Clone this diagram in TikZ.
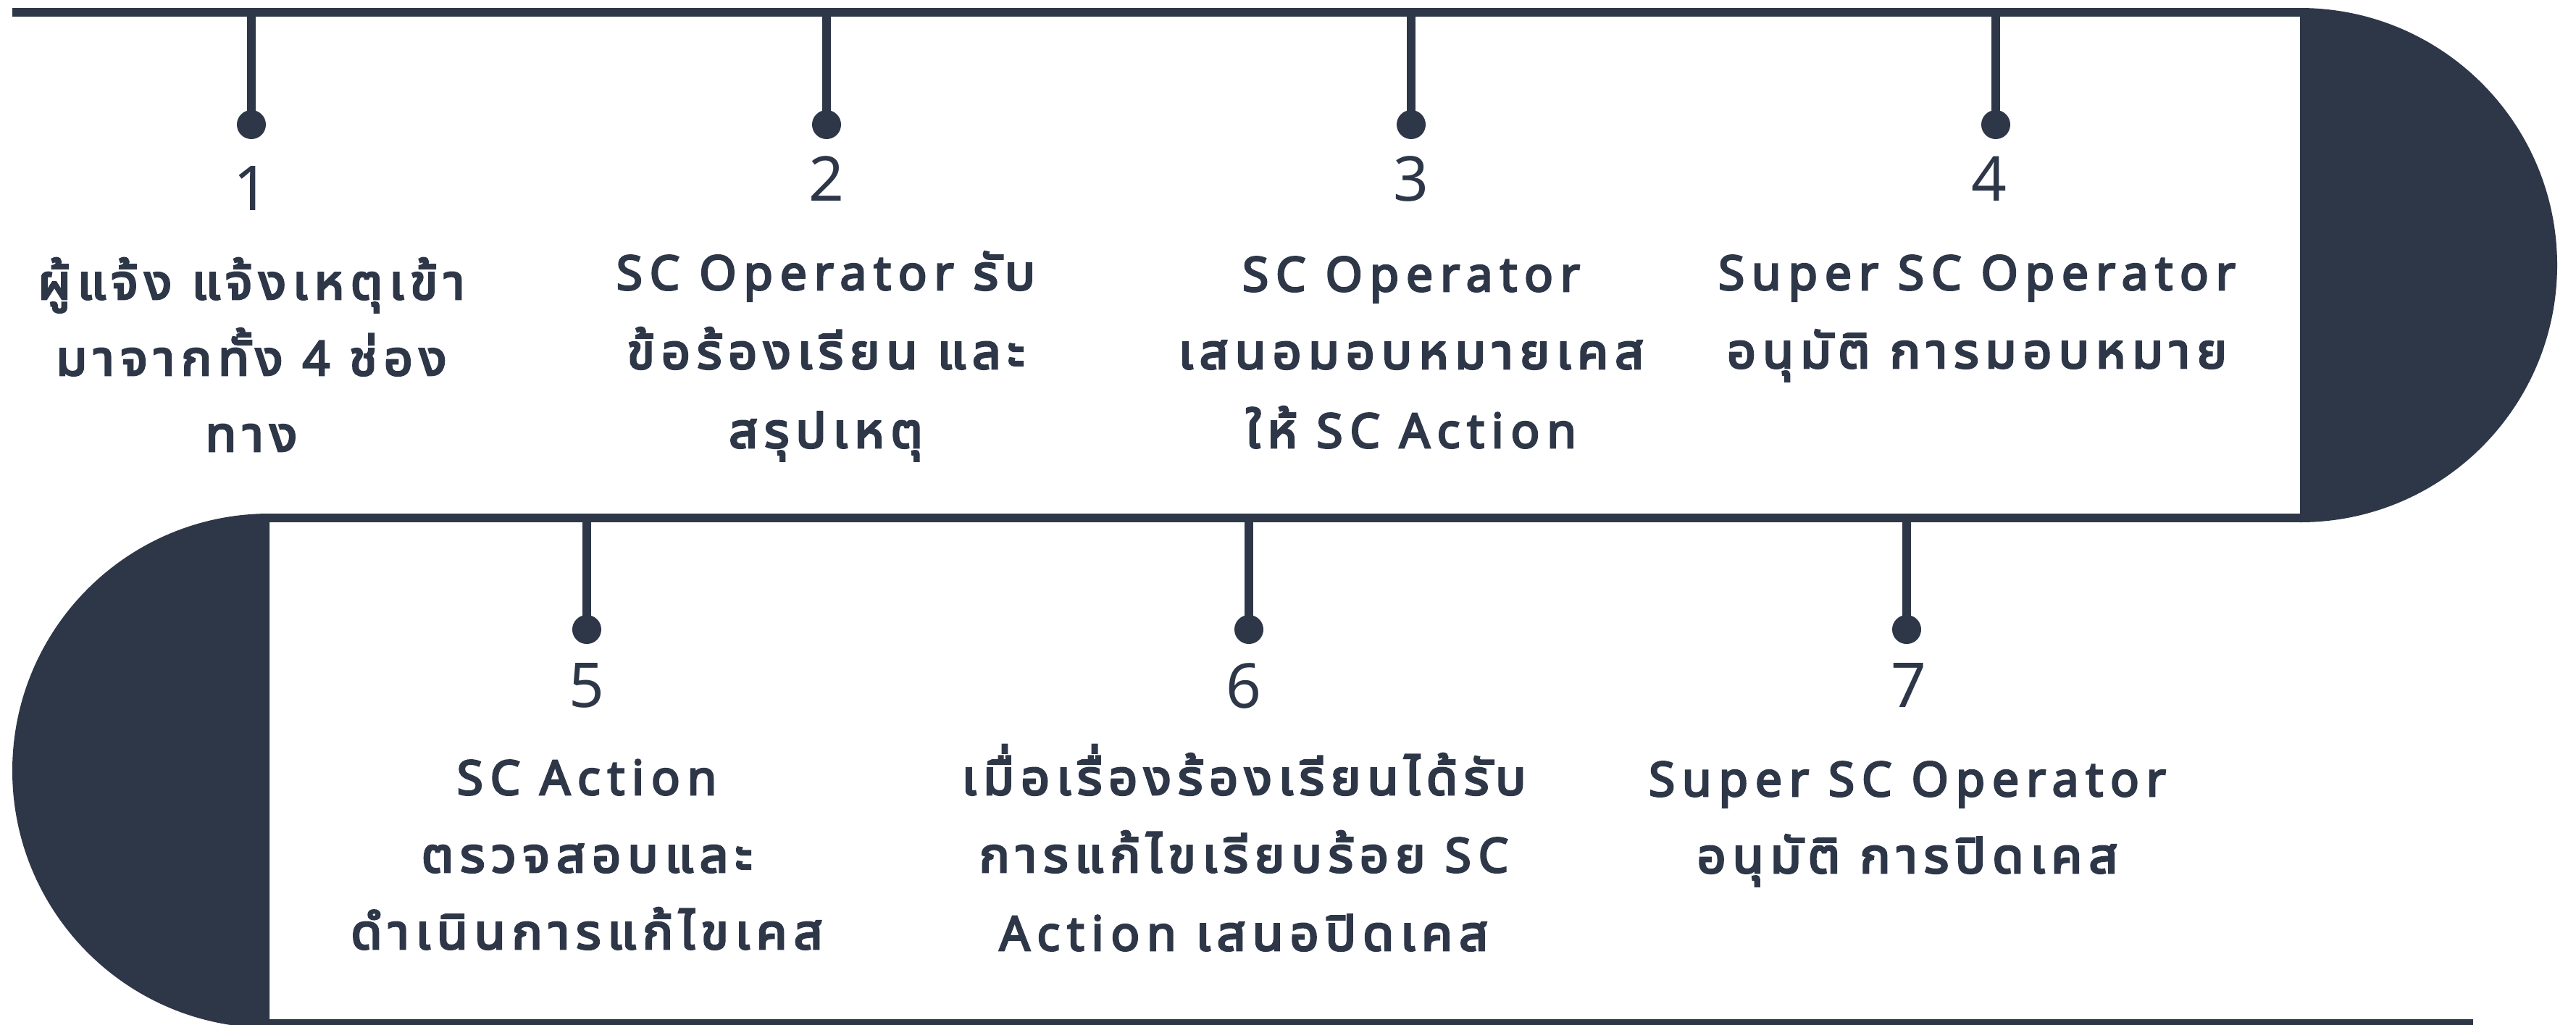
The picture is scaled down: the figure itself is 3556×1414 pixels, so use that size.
\documentclass[tikz,border=0pt]{standalone}
\usepackage{fontspec}
\setmainfont{Noto Sans}[LetterSpace=15, AutoFakeBold=4]
\newfontfamily\numf{Noto Sans}
\IfFontExistsTF{Noto Sans Thai UI}{\newfontfamily\thf{Noto Sans Thai UI}[Script=Thai, Scale=1.07, LetterSpace=12.5, AutoFakeBold=4]}{\newfontfamily\thf{Loma}[Script=Thai, AutoFakeBold=4]}
\definecolor{ink}{HTML}{2E3748}
\tikzset{
  lbl/.style={inner sep=0pt, anchor=base, text=ink, font=\fontsize{18.7}{22}\selectfont\bfseries},
  num/.style={inner sep=0pt, anchor=base, text=ink, font=\numf\fontsize{24.3}{26}\selectfont},
  dot/.style={circle, fill=ink, inner sep=0pt, minimum size=0.4cm},
  stem/.style={draw=ink, line width=0.12cm},
  band/.style={fill=ink},
}
\begin{document}
\begin{tikzpicture}[x=0.01cm,y=-0.01cm]
\useasboundingbox (0,0) rectangle (3556,1414);
\begin{scope}
  \clip (0,0) rectangle (3556,1414);
  \fill[band] (17,11) rectangle (3176,23);
  \fill[band] (372,709) rectangle (3176,721);
  \fill[band] (372,1407) rectangle (3414,1419);
  \begin{scope}
    \clip (3175,0) rectangle (3556,730);
    \fill[band] (3175,366) circle[radius=355];
  \end{scope}
  \begin{scope}
    \clip (0,700) rectangle (372,1414);
    \fill[band] (372,1064) circle[radius=355];
  \end{scope}
\end{scope}
% stems and dots, top row
\foreach \i/\x in {1/347,2/1141,3/1948,4/2755}{
  \coordinate (s\i) at (\x,17);
  \node[dot] (d\i) at (\x,172) {};
  \draw[stem] (s\i) -- (d\i.center);
}
% stems and dots, bottom row
\foreach \i/\x in {5/810,6/1724,7/2632}{
  \coordinate (s\i) at (\x,715);
  \node[dot] (d\i) at (\x,869) {};
  \draw[stem] (s\i) -- (d\i.center);
}
% numbers
\node[num] (n1) at (347,290) {1};
\node[num] (n2) at (1141,277) {2};
\node[num] (n3) at (1948,277) {3};
\node[num] (n4) at (2746,277) {4};
\node[num] (n5) at (810,976) {5};
\node[num] (n6) at (1717,977) {6};
\node[num] (n7) at (2635,976) {7};
% block 1
\node[lbl] (t1a) at (347,413) {\thf ผู้แจ้ง แจ้งเหตุเข้า};
\node[lbl] (t1b) at (347,518) {{\thf มาจากทั้ง} 4 {\thf ช่อง}};
\node[lbl] (t1c) at (347,623) {\thf ทาง};
% block 2
\node[lbl] (t2a) at (1140,400) {SC Operator {\thf รับ}};
\node[lbl] (t2b) at (1140,509) {\thf ข้อร้องเรียน และ};
\node[lbl] (t2c) at (1140,618) {\thf สรุปเหตุ};
% block 3
\node[lbl] (t3a) at (1948,402) {SC Operator};
\node[lbl] (t3b) at (1948,509) {\thf เสนอมอบหมายเคส};
\node[lbl] (t3c) at (1948,618) {{\thf ให้} SC Action};
% block 4
\node[lbl] (t4a) at (2729,400) {Super SC Operator};
\node[lbl] (t4b) at (2729,508) {\thf อนุมัติ การมอบหมาย};
% block 5
\node[lbl] (t5a) at (810,1097) {SC Action};
\node[lbl] (t5b) at (810,1204) {\thf ตรวจสอบและ};
\node[lbl] (t5c) at (810,1310) {\thf ดำเนินการแก้ไขเคส};
% block 6
\node[lbl] (t6a) at (1717,1097) {\thf เมื่อเรื่องร้องเรียนได้รับ};
\node[lbl] (t6b) at (1717,1204) {{\thf การแก้ไขเรียบร้อย} SC};
\node[lbl] (t6c) at (1717,1312) {Action {\thf เสนอปิดเคส}};
% block 7
\node[lbl] (t7a) at (2633,1099) {Super SC Operator};
\node[lbl] (t7b) at (2633,1205) {\thf อนุมัติ การปิดเคส};
\end{tikzpicture}
\end{document}
